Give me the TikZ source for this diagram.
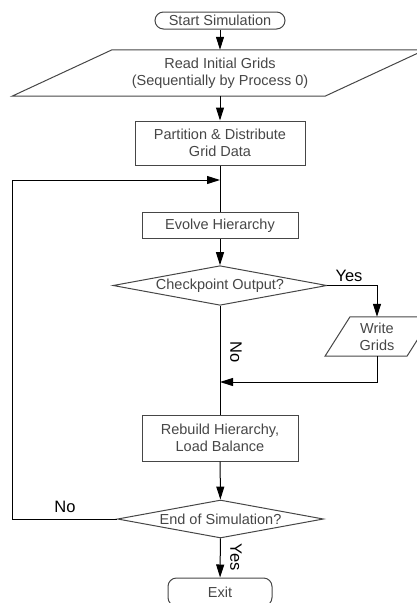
\documentclass[tikz,border=0pt]{standalone}
\usepackage{fontspec}
\setmainfont{Liberation Sans}
\usetikzlibrary{shapes.geometric, arrows.meta, positioning, calc}
\definecolor{flowGray}{RGB}{70, 70, 70}
\definecolor{flowLine}{RGB}{0, 0, 0}

\begin{document}
\begin{tikzpicture}[x=1pt, y=-1pt,
    every node/.style={font=\fontsize{14.5}{17}\selectfont, text=flowGray},
    term/.style={rectangle, draw=flowGray, rounded corners=8.5pt, inner sep=0pt, line width=1pt},
    proc/.style={rectangle, draw=flowGray, inner sep=0pt, align=center, line width=1pt},
    iotext/.style={inner sep=0pt, align=center},
    decide/.style={diamond, aspect=5.4, draw=flowGray, inner sep=1pt, minimum width=206pt, minimum height=38pt, line width=1pt},
    lbl/.style={font=\fontsize{16.5}{18}\selectfont, text=black, inner sep=0pt},
    arr/.style={-{Triangle[length=13pt, width=8pt]}, line width=1pt, flowLine},
    ln/.style={line width=1pt, flowLine},
    outline/.style={line width=1pt, draw=flowGray}
  ]
    \useasboundingbox (0,0) rectangle (417,603);

    \node[term, minimum width=130pt, minimum height=17pt] (start) at (220,20.5) {Start Simulation};
    \node[iotext, minimum width=200pt, minimum height=46pt] (read) at (220,73) {Read Initial Grids\\(Sequentially by Process 0)};
    \node[proc, minimum width=170pt, minimum height=44pt] (part) at (220,143) {Partition \& Distribute\\Grid Data};
    \node[proc, minimum width=156pt, minimum height=26pt] (evolve) at (220,225.5) {Evolve Hierarchy};
    \node[decide] (chk) at (220,285.5) {Checkpoint Output?};
    \node[iotext, minimum width=50pt, minimum height=39pt] (write) at (377,336.5) {Write\\Grids};
    \node[proc, minimum width=156pt, minimum height=46pt] (rebuild) at (220,438) {Rebuild Hierarchy,\\Load Balance};
    \node[decide] (endsim) at (220.5,519) {End of Simulation?};
    \node[term, minimum width=104pt, minimum height=28pt] (exit) at (220,592) {Exit};

    % input parallelograms, both run past the right edge of the page
    \draw[outline] ($(read.south)+(-208,0)$) -- ($(read.south)+(105,0)$)
      -- ($(read.north)+(205,0)$) -- ($(read.north)+(-108,0)$) -- cycle;
    \draw[outline] ($(write.south)+(-52,0)$) -- ($(write.south)+(30,0)$)
      -- ($(write.north)+(55,0)$) -- ($(write.north)+(-27,0)$) -- cycle;

    \coordinate (loopIn) at (220,180);
    \coordinate (loopCorner) at (12,180);
    \coordinate (mergeIn) at (220,382);

    \node[lbl] (yesChk) at (349,276) {Yes};
    \node[lbl, rotate=-90] (noChk) at (236,352) {No};
    \node[lbl] (noEnd) at (65,507) {No};
    \node[lbl, rotate=-90] (yesEnd) at (236,557) {Yes};

    \draw[arr] (start) -- (read);
    \draw[arr] (read) -- (part);
    \draw[ln] (part) -- (evolve);
    \draw[arr] (evolve) -- (chk);
    \draw[arr] (chk.east) -| (write.north);
    \draw[ln] (chk.south) -- (rebuild.north);
    \draw[arr] (write.south) |- (mergeIn);
    \draw[arr] (rebuild) -- (endsim);
    \draw[arr] (endsim) -- (exit);
    \draw[ln] (endsim.west) -| (loopCorner);
    \draw[arr] (loopCorner) -- (loopIn);
  \end{tikzpicture}
\end{document}
